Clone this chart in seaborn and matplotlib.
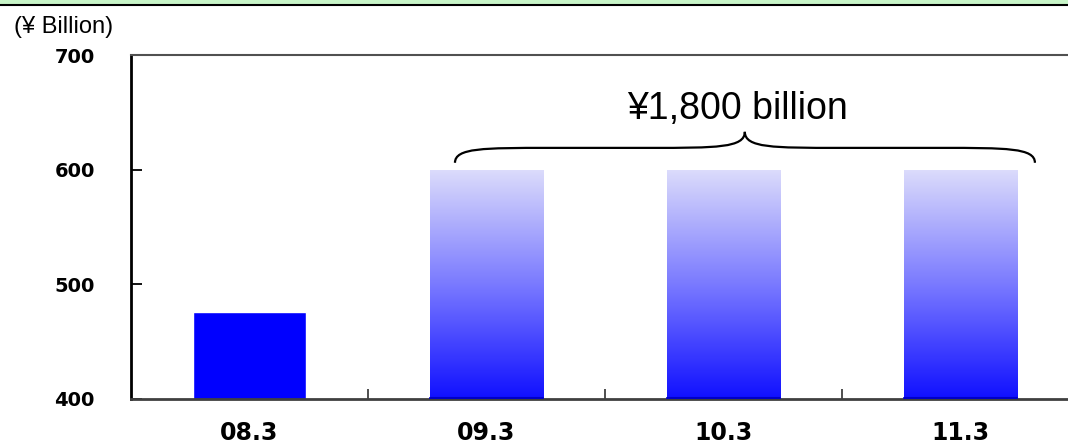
import numpy as np
import matplotlib
matplotlib.use("Agg")
import matplotlib.pyplot as plt
from matplotlib.colors import LinearSegmentedColormap
from matplotlib.patches import Rectangle, PathPatch
from matplotlib.path import Path
from matplotlib.lines import Line2D
import seaborn as sns

# data
periods = ["08.3", "09.3", "10.3", "11.3"]
investment = [476, 600, 600, 600]
plan_label = "¥1,800 billion"
unit_label = "(¥ Billion)"
y_ticks = [400, 500, 600, 700]

sns.set_style("white")
plt.rcParams["font.family"] = ["Liberation Sans", "DejaVu Sans"]
plt.rcParams["text.color"] = "black"
plt.rcParams["xtick.labelcolor"] = "black"
plt.rcParams["ytick.labelcolor"] = "black"

fig = plt.figure(figsize=(10.68, 4.47), dpi=100)
ax = fig.add_axes([131 / 1068, 48 / 447, 1 - 131 / 1068, 344 / 447])

sns.barplot(x=periods, y=investment, color="#0000ff", width=0.48,
            saturation=1, ax=ax)

# gradient for the plan years
grad = LinearSegmentedColormap.from_list("g", ["#1010ff", "#7a7aff", "#dcdcfb"])
g = np.linspace(0, 1, 256).reshape(-1, 1)
for p in ax.patches[1:]:
    p.set_facecolor("none")
    x0, w, h = p.get_x(), p.get_width(), p.get_height()
    im = ax.imshow(g, cmap=grad, origin="lower", aspect="auto",
                   extent=(x0, x0 + w, 400, h), zorder=p.get_zorder())
    im.set_clip_path(p)
    ax.plot([x0, x0 + w], [400.8, 400.8], color="#0000c8", lw=1.5, zorder=3)

ax.set_xlim(-0.5, (1068 - 131) / 237 - 0.5)
ax.set_ylim(400, 700)
ax.set_yticks(y_ticks)
ax.set_xlabel("")
ax.set_ylabel("")

# brace over the three plan bars
x0, x1 = 0.867, 3.314
xm = 2.09
yb, yh, yt = 606, 619, 633
verts = [(x0, yb), (x0, yh), (x0 + 0.12, yh), (x0 + 0.4, yh),
         (xm - 0.4, yh),
         (xm - 0.12, yh), (xm, yh), (xm, yt),
         (xm, yh), (xm + 0.12, yh), (xm + 0.4, yh),
         (x1 - 0.4, yh),
         (x1 - 0.12, yh), (x1, yh), (x1, yb)]
codes = [Path.MOVETO, Path.CURVE4, Path.CURVE4, Path.CURVE4,
         Path.LINETO,
         Path.CURVE4, Path.CURVE4, Path.CURVE4,
         Path.CURVE4, Path.CURVE4, Path.CURVE4,
         Path.LINETO,
         Path.CURVE4, Path.CURVE4, Path.CURVE4]
ax.add_patch(PathPatch(Path(verts, codes), facecolor="none", edgecolor="black", lw=1.6))
ax.text(xm - 0.03, 653, plan_label, ha="center", va="center", fontsize=27, color="black")

# spines / ticks
for s in ["left", "bottom", "top"]:
    ax.spines[s].set_visible(True)
ax.spines["left"].set_color("black")
ax.spines["left"].set_linewidth(2)
ax.spines["bottom"].set_color("#404040")
ax.spines["bottom"].set_linewidth(2)
ax.spines["top"].set_color("#505050")
ax.spines["top"].set_linewidth(1.5)
ax.spines["right"].set_visible(False)

ax.tick_params(axis="y", direction="in", length=8, width=1.3, color="black",
               pad=26, labelsize=14, left=True)
ax.tick_params(axis="x", which="major", length=0, pad=16, labelsize=17)
ax.set_xticks([0.5, 1.5, 2.5], minor=True)
ax.tick_params(axis="x", which="minor", direction="in", length=7, width=1.3,
               color="#404040", bottom=True)
for lab in ax.get_yticklabels() + ax.get_xticklabels():
    lab.set_fontfamily("DejaVu Sans")
    lab.set_fontweight("bold")
    lab.set_color("black")

fig.text(14 / 1068, 1 - 27 / 447, unit_label, ha="left", va="center", fontsize=17,
         color="black")

# green band on top
fig.add_artist(Rectangle((0, 1 - 4 / 447), 1, 4 / 447, transform=fig.transFigure,
                         facecolor="#c8f5c8", edgecolor="none"))
fig.add_artist(Line2D([0, 1], [1 - 5 / 447, 1 - 5 / 447], transform=fig.transFigure,
                      color="black", lw=1.5))

fig.savefig("out.png", dpi=100)
